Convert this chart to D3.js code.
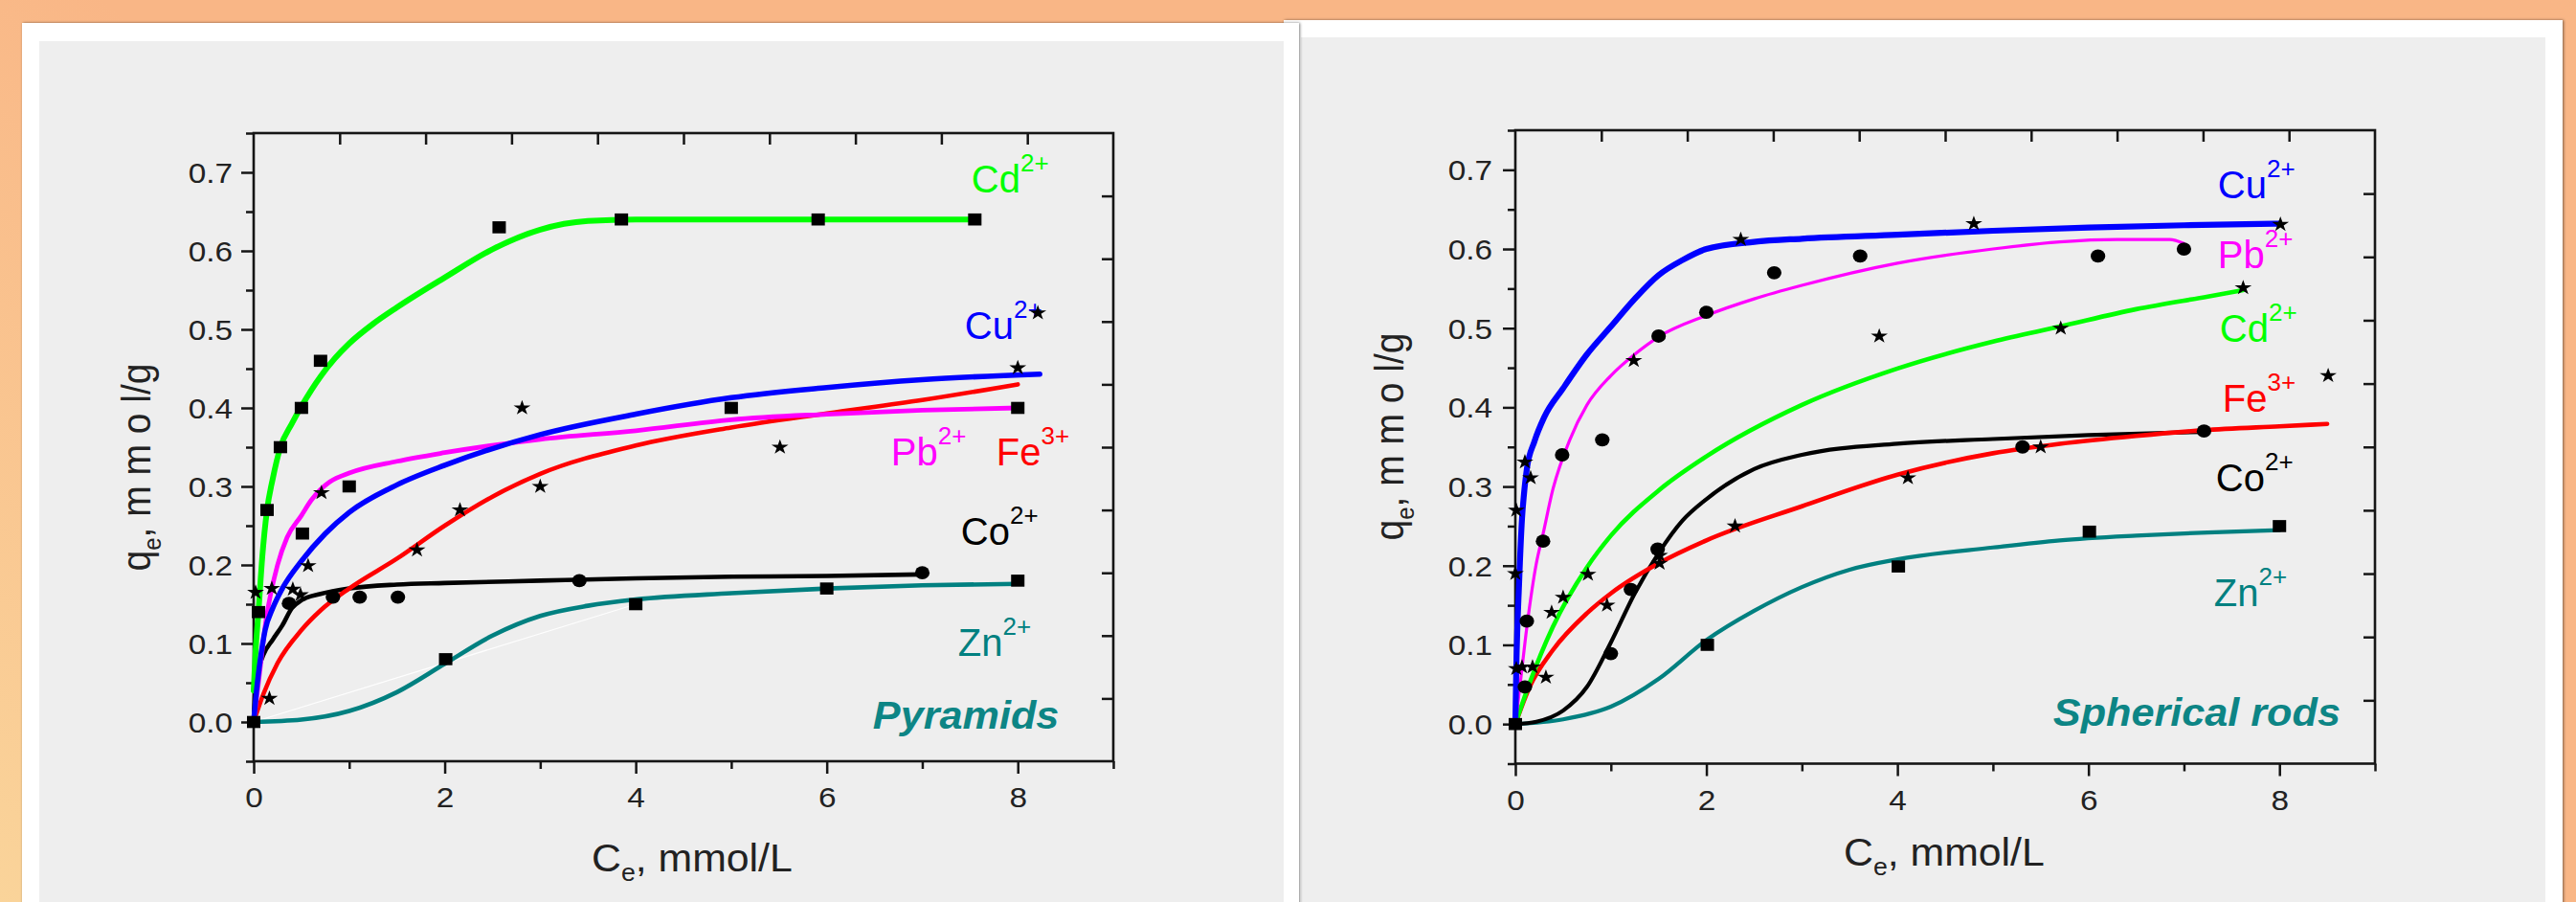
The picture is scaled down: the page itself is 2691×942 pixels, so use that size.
<!DOCTYPE html>
<html><head><meta charset="utf-8">
<script src="https://cdn.jsdelivr.net/npm/d3@7"></script>
<style>html,body{margin:0;padding:0;overflow:hidden;background:#f9c08c}</style>
</head><body><svg id="c" width="2691" height="942"></svg>
<script>
// ---------------- DATA ----------------
const panelNames = ["Pyramids", "Spherical rods"];
const ions = ["Cd", "Cu", "Pb", "Fe", "Co", "Zn"];
const charges = ["2+", "2+", "2+", "3+", "2+", "2+"];
const xTickValues = [0, 2, 4, 6, 8];
const xMinorValues = [1, 3, 5, 7, 9];
const yTickValues = [0, 0.1, 0.2, 0.3, 0.4, 0.5, 0.6, 0.7];
const yTickLabels = ["0.0", "0.1", "0.2", "0.3", "0.4", "0.5", "0.6", "0.7"];
const yMinorValues = [-0.05, 0.05, 0.15, 0.25, 0.35, 0.45, 0.55, 0.65, 0.75];

// Pyramids – fitted curves [Ce, qe]
const pyrCdFit = [[0,0.04],[0.02,0.09],[0.05,0.14],[0.09,0.21],[0.14,0.27],[0.2,0.31],[0.28,0.35],[0.4,0.38],[0.5,0.402],[0.7,0.44],[0.85,0.463],[1.0,0.482],[1.25,0.507],[1.5,0.528],[2.0,0.566],[2.5,0.602],[3.0,0.627],[3.5,0.638],[4.0,0.64],[5.0,0.64],[6.0,0.64],[7.55,0.64]];
const pyrCuFit = [[0,0],[0.03,0.04],[0.07,0.08],[0.12,0.117],[0.2,0.145],[0.3,0.17],[0.5,0.205],[0.75,0.24],[1.0,0.267],[1.5,0.302],[2,0.327],[3,0.366],[4,0.392],[5,0.413],[6,0.426],[7,0.436],[8.23,0.443]];
const pyrPbFit = [[0,0],[0.05,0.05],[0.13,0.13],[0.25,0.2],[0.35,0.235],[0.5,0.263],[0.6,0.282],[0.7,0.296],[0.8,0.306],[1.0,0.317],[1.5,0.332],[2,0.343],[3,0.36],[4,0.371],[5,0.385],[6,0.392],[7,0.397],[8,0.4]];
const pyrFeFit = [[0,0],[0.1,0.035],[0.25,0.075],[0.5,0.117],[0.7,0.142],[1,0.17],[1.5,0.208],[2,0.25],[2.5,0.287],[3,0.316],[4,0.352],[5,0.375],[6,0.393],[7,0.41],[8,0.43]];
const pyrCoFit = [[0,0],[0.02,0.05],[0.1,0.085],[0.2,0.105],[0.3,0.123],[0.4,0.145],[0.5,0.155],[0.7,0.163],[1,0.17],[1.5,0.175],[2,0.177],[3,0.18],[4,0.183],[5,0.185],[6,0.186],[7,0.188]];
const pyrZnFit = [[0,0],[0.5,0.003],[1,0.014],[1.5,0.038],[2,0.074],[2.5,0.11],[3,0.135],[3.5,0.148],[4,0.156],[5,0.164],[6,0.17],[7,0.174],[8,0.176]];
const pyrGuide = [[0,0],[4,0.15]];
const pyrSquares = [[0,0],[0.05,0.14],[0.14,0.27],[0.28,0.35],[0.5,0.40],[0.7,0.46],[2.57,0.63],[3.85,0.64],[5.91,0.64],[7.55,0.64],[0.51,0.24],[1.0,0.30],[5.0,0.40],[8.0,0.40],[2.01,0.08],[4.0,0.15],[6.0,0.17],[8.0,0.18]];
const pyrCircles = [[0.37,0.151],[0.83,0.159],[1.11,0.159],[1.51,0.159],[3.41,0.18],[7.0,0.19]];
const pyrStars = [[0.02,0.165],[0.165,0.03],[0.19,0.17],[0.41,0.169],[0.49,0.162],[0.57,0.199],[0.71,0.292],[1.71,0.219],[2.16,0.27],[2.81,0.40],[3.0,0.30],[5.51,0.35],[8.0,0.451],[8.21,0.521]];
// label anchors (data coords) for Cd, Cu, Pb, Fe, Co, Zn, panel name
const pyrLabelX = [7.515, 7.445, 6.673, 7.776, 7.405, 7.375, 6.483];
const pyrLabelY = [0.675, 0.488, 0.327, 0.327, 0.226, 0.084, -0.009];

// Spherical rods – fitted curves
const rodCdFit = [[0,0],[0.15,0.052],[0.39,0.122],[0.75,0.198],[1,0.238],[1.5,0.295],[2,0.338],[3,0.403],[4,0.449],[5,0.483],[5.7,0.502],[6.5,0.524],[7.25,0.54],[7.62,0.548]];
const rodCuFit = [[0,0],[0.01,0.07],[0.04,0.18],[0.07,0.26],[0.09,0.29],[0.12,0.322],[0.2,0.357],[0.3,0.387],[0.5,0.424],[0.75,0.467],[1,0.502],[1.25,0.537],[1.5,0.567],[1.75,0.586],[2,0.6],[2.5,0.609],[3,0.613],[4,0.618],[5,0.623],[6,0.627],[7,0.63],[8,0.632]];
const rodPbFit = [[0,0],[0.05,0.05],[0.12,0.122],[0.22,0.203],[0.29,0.24],[0.39,0.295],[0.57,0.359],[0.75,0.403],[1,0.44],[1.25,0.467],[1.5,0.489],[2,0.516],[2.5,0.537],[3,0.554],[4,0.582],[5,0.6],[5.7,0.609],[6.3,0.612],[6.85,0.612],[7.0,0.607]];
const rodFeFit = [[0,0],[0.15,0.047],[0.39,0.093],[0.75,0.14],[1,0.165],[1.5,0.203],[2,0.232],[3,0.275],[4,0.315],[5,0.342],[5.7,0.354],[6.5,0.364],[7.2,0.371],[8,0.376],[8.5,0.379]];
const rodCoFit = [[0,0],[0.22,0.003],[0.5,0.017],[0.75,0.047],[1,0.103],[1.25,0.165],[1.5,0.216],[1.75,0.257],[2,0.284],[2.5,0.322],[3,0.34],[4,0.354],[5,0.36],[6,0.365],[7.2,0.369]];
const rodZnFit = [[0,0],[0.5,0.006],[1,0.022],[1.5,0.057],[2,0.106],[2.5,0.143],[3,0.173],[3.5,0.195],[4,0.208],[5,0.223],[5.7,0.232],[6.5,0.238],[7.25,0.242],[8,0.245]];
const rodSquares = [[0,0],[2.01,0.1],[4.01,0.199],[6.01,0.243],[8.0,0.25]];
const rodCircles = [[0.1,0.047],[0.12,0.13],[0.29,0.231],[0.49,0.34],[0.91,0.359],[1.0,0.089],[1.21,0.17],[1.49,0.221],[1.5,0.49],[2.0,0.52],[2.71,0.57],[3.61,0.591],[5.31,0.35],[6.1,0.591],[7.0,0.6],[7.21,0.37]];
const rodStars = [[0.01,0.27],[0.0,0.19],[0.01,0.07],[0.1,0.331],[0.16,0.311],[0.07,0.072],[0.18,0.072],[0.32,0.059],[0.38,0.141],[0.5,0.16],[0.76,0.189],[0.96,0.15],[1.24,0.459],[1.51,0.213],[1.51,0.203],[2.3,0.25],[2.36,0.612],[3.81,0.49],[4.11,0.311],[4.8,0.632],[5.5,0.35],[5.71,0.5],[7.62,0.551],[8.01,0.631],[8.51,0.44]];
const rodLabelX = [7.375, 7.355, 7.355, 7.405, 7.335, 7.315, 5.631];
const rodLabelY = [0.483, 0.664, 0.576, 0.3945, 0.294, 0.149, -0.002];

// ---------------- STYLE / LAYOUT ----------------
const ionColors = {Cd: "#00ff00", Cu: "#0000ff", Pb: "#ff00ff", Fe: "#ff0000", Co: "#000000", Zn: "#008080"};
const FONT = "'Liberation Sans', Arial, Helvetica, sans-serif";

const panels = [
  { name: panelNames[0], x0: 265, x1: 1163, y0: 139, y1: 795,
    fits: {Cd: pyrCdFit, Cu: pyrCuFit, Pb: pyrPbFit, Fe: pyrFeFit, Co: pyrCoFit, Zn: pyrZnFit},
    widths: {Cd: 6, Cu: 5.5, Pb: 4.8, Fe: 4.6, Co: 4.6, Zn: 4.6},
    guide: pyrGuide, squares: pyrSquares, circles: pyrCircles, stars: pyrStars,
    labelX: pyrLabelX, labelY: pyrLabelY,
    tickLabelGap: 22, xLabelY: 48, xTitleX: 618, xTitleY: 910, yTitleX: 157, yTitleY: 488 },
  { name: panelNames[1], x0: 1583, x1: 2481, y0: 136, y1: 797.5,
    fits: {Cd: rodCdFit, Cu: rodCuFit, Pb: rodPbFit, Fe: rodFeFit, Co: rodCoFit, Zn: rodZnFit},
    widths: {Cd: 4.6, Cu: 6.2, Pb: 3.2, Fe: 4.6, Co: 4.2, Zn: 4.2},
    guide: null, squares: rodSquares, circles: rodCircles, stars: rodStars,
    labelX: rodLabelX, labelY: rodLabelY,
    tickLabelGap: 24, xLabelY: 49, xTitleX: 1926, xTitleY: 904, yTitleX: 1466, yTitleY: 456 }
];

// ---------------- DRAW ----------------
const svg = d3.select("#c");
const defs = svg.append("defs");
const grad = defs.append("linearGradient").attr("id", "bg").attr("gradientUnits", "userSpaceOnUse")
  .attr("x1", 0).attr("y1", 942).attr("x2", 520).attr("y2", 380);
grad.append("stop").attr("offset", 0).attr("stop-color", "#fad49a");
grad.append("stop").attr("offset", 1).attr("stop-color", "#f9b686");
svg.append("rect").attr("width", 2691).attr("height", 942).attr("fill", "url(#bg)");
const flt = defs.append("filter").attr("id", "sh").attr("x", "-3%").attr("y", "-3%").attr("width", "106%").attr("height", "106%");
flt.append("feDropShadow").attr("dx", 1).attr("dy", 0).attr("stdDeviation", 1.8).attr("flood-color", "#000").attr("flood-opacity", 0.5);

// right panel first (behind), then left panel
svg.append("rect").attr("x", 1341).attr("y", 21).attr("width", 1336).attr("height", 1000).attr("fill", "#fff").attr("filter", "url(#sh)");
svg.append("rect").attr("x", 1359).attr("y", 39).attr("width", 1300).attr("height", 1000).attr("fill", "#eeeeee");
svg.append("rect").attr("x", 23).attr("y", 24).attr("width", 1334).attr("height", 1000).attr("fill", "#fff").attr("filter", "url(#sh)");
svg.append("rect").attr("x", 41).attr("y", 43).attr("width", 1300).attr("height", 1000).attr("fill", "#eeeeee");

const TICK_FS = 29, TICK_SX = 1.15;

function styleAxis(g) {
  g.select(".domain").remove();
  g.attr("font-family", FONT).attr("font-size", TICK_FS);
  g.selectAll("line").attr("stroke", "#151515").attr("stroke-width", 2.5);
  g.selectAll("text").attr("fill", "#222");
}

function drawPanel(P) {
  const g = svg.append("g");
  const x = d3.scaleLinear().domain([0, 9]).range([P.x0, P.x1]);
  const y = d3.scaleLinear().domain([-0.05, 0.75]).range([P.y1, P.y0]);
  const xd = d3.scaleLinear().domain([0, 10]).range([P.x0, P.x1]);
  const yd = d3.scaleLinear().domain([0, 10]).range([P.y1, P.y0]);

  // bottom axis
  const gb = g.append("g").attr("transform", `translate(0,${P.y1})`)
    .call(d3.axisBottom(x).tickValues(xTickValues).tickSize(13).tickFormat(d3.format("d")));
  styleAxis(gb);
  gb.selectAll("text").attr("y", P.xLabelY).attr("dy", 0).attr("transform", `scale(${TICK_SX},1)`);
  const gbm = g.append("g").attr("transform", `translate(0,${P.y1})`)
    .call(d3.axisBottom(x).tickValues(xMinorValues).tickSize(8).tickFormat(""));
  styleAxis(gbm);

  // left axis
  const gl = g.append("g").attr("transform", `translate(${P.x0},0)`)
    .call(d3.axisLeft(y).tickValues(yTickValues).tickSize(13).tickFormat((d, i) => yTickLabels[i]));
  styleAxis(gl);
  gl.selectAll("text").attr("x", 0).attr("dy", "0.36em").attr("text-anchor", "end")
    .attr("transform", `translate(${-P.tickLabelGap},0) scale(${TICK_SX},1)`);
  const glm = g.append("g").attr("transform", `translate(${P.x0},0)`)
    .call(d3.axisLeft(y).tickValues(yMinorValues).tickSize(8).tickFormat(""));
  styleAxis(glm);

  // top & right axes (inward ticks, ten equal divisions)
  const gt = g.append("g").attr("transform", `translate(0,${P.y0})`)
    .call(d3.axisTop(xd).tickValues(d3.range(1, 10)).tickSize(-12).tickFormat(""));
  styleAxis(gt);
  const gr = g.append("g").attr("transform", `translate(${P.x1},0)`)
    .call(d3.axisRight(yd).tickValues(d3.range(1, 10)).tickSize(-12).tickFormat(""));
  styleAxis(gr);

  // frame
  g.append("rect").attr("x", P.x0).attr("y", P.y0).attr("width", P.x1 - P.x0).attr("height", P.y1 - P.y0)
    .attr("fill", "none").attr("stroke", "#151515").attr("stroke-width", 2.6);

  // fitted curves
  const line = d3.line().x(d => x(d[0])).y(d => y(d[1])).curve(d3.curveMonotoneX);
  if (P.guide) {
    g.append("path").attr("d", d3.line().x(d => x(d[0])).y(d => y(d[1]))(P.guide))
      .attr("fill", "none").attr("stroke", "#ffffff").attr("stroke-width", 1.3).attr("opacity", 0.9);
  }
  ["Zn", "Co", "Fe", "Cd", "Pb", "Cu"].forEach(ion => {
    g.append("path").attr("d", line(P.fits[ion])).attr("fill", "none")
      .attr("stroke", ionColors[ion]).attr("stroke-width", P.widths[ion])
      .attr("stroke-linecap", "round").attr("stroke-linejoin", "round");
  });

  // ion labels
  ions.forEach((ion, i) => {
    const t = g.append("text").attr("x", x(P.labelX[i])).attr("y", y(P.labelY[i]))
      .attr("font-family", FONT).attr("font-size", 40).attr("fill", ionColors[ion]);
    t.append("tspan").text(ion);
    t.append("tspan").attr("dy", -22).attr("font-size", 26).text(charges[i]);
  });
  // panel name
  g.append("text").attr("transform", `translate(${x(P.labelX[6])},${y(P.labelY[6])}) scale(1.08,1)`)
    .attr("font-family", FONT).attr("font-size", 40).attr("font-weight", "bold").attr("font-style", "italic")
    .attr("fill", "#0d8585").text(P.name);

  // axis titles
  const xt = g.append("text").attr("transform", `translate(${P.xTitleX},${P.xTitleY}) scale(1.07,1)`)
    .attr("font-family", FONT).attr("font-size", 40).attr("fill", "#222");
  xt.append("tspan").text("C");
  xt.append("tspan").attr("dy", 10).attr("font-size", 25).text("e");
  xt.append("tspan").attr("dy", -10).text(", mmol/L");

  const yt = g.append("text").attr("transform", `translate(${P.yTitleX},${P.yTitleY}) scale(1.1,1) rotate(-90)`)
    .attr("text-anchor", "middle").attr("font-family", FONT).attr("font-size", 39).attr("fill", "#222");
  yt.append("tspan").text("q");
  yt.append("tspan").attr("dy", 10).attr("font-size", 24).text("e");
  yt.append("tspan").attr("dy", -10).text(", m m o l/g");

  // markers
  g.append("g").selectAll("rect").data(P.squares).join("rect")
    .attr("x", d => x(d[0]) - 7).attr("y", d => y(d[1]) - 6.3).attr("width", 14).attr("height", 12.6).attr("fill", "#000");
  g.append("g").selectAll("ellipse").data(P.circles).join("ellipse")
    .attr("cx", d => x(d[0])).attr("cy", d => y(d[1])).attr("rx", 7.6).attr("ry", 6.9).attr("fill", "#000");
  const star = d3.symbol(d3.symbolStar, 78)();
  g.append("g").selectAll("path").data(P.stars).join("path")
    .attr("d", star).attr("transform", d => `translate(${x(d[0])},${y(d[1])}) scale(1.12,1)`).attr("fill", "#000");
}

panels.forEach(drawPanel);
</script></body></html>
